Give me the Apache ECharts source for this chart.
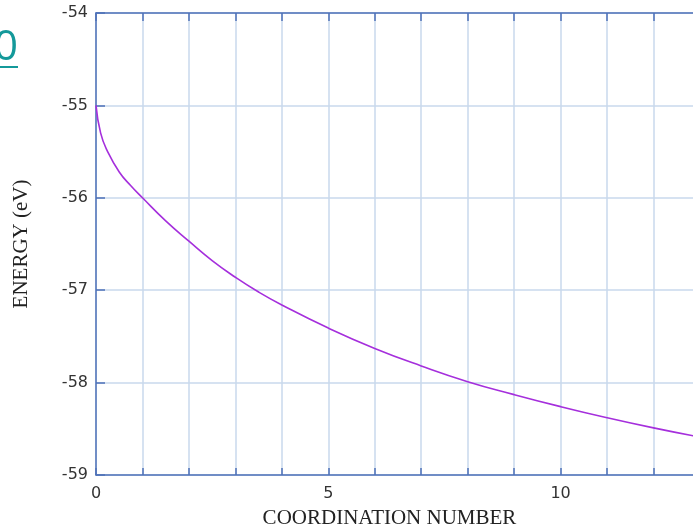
<!DOCTYPE html>
<html>
<head>
<meta charset="utf-8">
<script src="https://cdn.jsdelivr.net/npm/echarts@6/dist/echarts.min.js"></script>
<style>
  html, body { margin: 0; padding: 0; background: #fff; }
  #main { width: 693px; height: 528px; }
</style>
</head>
<body>
<div id="main"></div>
<script>
  // coordination number vs energy
  var coordNum = [0, 0.1, 0.25, 0.5, 0.75, 1, 1.5, 2, 2.5, 3, 3.5, 4, 5, 6, 7, 8, 9, 10, 11, 12, 13];
  var energy = [-55, -55.3, -55.5, -55.72, -55.87, -56, -56.25, -56.47, -56.68, -56.86, -57.02, -57.16,
                -57.41, -57.63, -57.82, -57.99, -58.13, -58.26, -58.38, -58.49, -58.59];
  var xLabels = [0, 5, 10];

  var axisBlue = '#4f72b8';
  var gridBlue = '#c8d8ec';

  var points = coordNum.map(function (x, i) { return [x, energy[i]]; });

  var chart = echarts.init(document.getElementById('main'));
  chart.setOption({
    animation: false,
    grid: { left: 96, right: -7, top: 13, bottom: 53, outerBoundsMode: 'none' },
    graphic: [
      {
        type: 'text', left: -6, top: 27,
        style: { text: '0', fill: '#14999a', font: '42px "Open Sans"' }
      },
      {
        type: 'rect', shape: { x: 0, y: 66, width: 18, height: 2 },
        style: { fill: '#14999a' }
      }
    ],
    xAxis: [
      {
        type: 'value', min: 0, max: 13, interval: 1,
        name: 'COORDINATION NUMBER', nameLocation: 'middle', nameGap: 33,
        nameTextStyle: { fontFamily: 'Liberation Serif', fontSize: 21, color: '#222', padding: [0, 17, 0, 0] },
        axisLine: { show: true, lineStyle: { color: axisBlue, width: 1.5 } },
        axisTick: { show: true, inside: true, length: 7, lineStyle: { color: axisBlue, width: 1.5 } },
        axisLabel: {
          margin: 11, fontFamily: 'DejaVu Sans', fontSize: 16, color: '#333',
          showMaxLabel: false,
          formatter: function (v) { return xLabels.indexOf(v) >= 0 ? String(v) : ''; }
        },
        splitLine: { show: true, lineStyle: { color: gridBlue, width: 1.5 } }
      },
      {
        type: 'value', position: 'top', min: 0, max: 13, interval: 1,
        axisLine: { show: true, lineStyle: { color: axisBlue, width: 1.5 } },
        axisTick: { show: true, inside: true, length: 8, lineStyle: { color: axisBlue, width: 1.5 } },
        axisLabel: { show: false },
        splitLine: { show: false }
      }
    ],
    yAxis: {
      type: 'value', min: -59, max: -54, interval: 1,
      name: 'ENERGY (eV)', nameLocation: 'middle', nameGap: 64,
      nameTextStyle: { fontFamily: 'Liberation Serif', fontSize: 21, color: '#222' },
      axisLine: { show: true, lineStyle: { color: axisBlue, width: 1.5 } },
      axisTick: { show: true, inside: true, length: 9, lineStyle: { color: axisBlue, width: 1.5 } },
      axisLabel: { margin: 8, fontFamily: 'DejaVu Sans', fontSize: 16, color: '#333' },
      splitLine: { show: true, lineStyle: { color: gridBlue, width: 1.5 } }
    },
    series: [{
      type: 'line',
      data: points,
      smooth: 0.5,
      showSymbol: false,
      clip: true,
      lineStyle: { color: '#a52fdc', width: 1.6 }
    }]
  });
</script>
</body>
</html>
